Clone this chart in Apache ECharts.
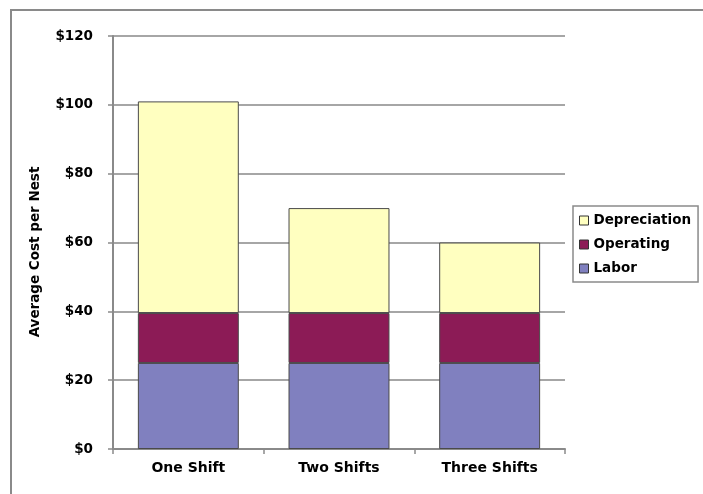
<!DOCTYPE html>
<html>
<head>
<meta charset="utf-8">
<script src="https://cdn.jsdelivr.net/npm/echarts@6/dist/echarts.min.js"></script>
<style>
  html, body { margin: 0; padding: 0; background: #fff; }
  #chart { width: 703px; height: 494px; }
</style>
</head>
<body>
<div id="chart"></div>
<script>
// Average cost per nest by shift pattern, split into cost components
const categories = ['One Shift', 'Two Shifts', 'Three Shifts'];
const labor = [25, 25, 25];
const operating = [14.5, 14.5, 14.5];
const depreciation = [61.5, 30.5, 20.5];
const yTicks = [0, 20, 40, 60, 80, 100, 120];

const FONT = 'DejaVu Sans';
const textBase = { fontFamily: FONT, fontWeight: 'bold', fontSize: 13.5, color: '#000' };

const chart = echarts.init(document.getElementById('chart'), null, { renderer: 'canvas' });

const barBorder = { borderColor: '#4a4a4a', borderWidth: 1 };

chart.setOption({
  animation: false,
  backgroundColor: '#fff',
  grid: { left: 113, right: 138, top: 36, bottom: 45, containLabel: false },
  graphic: [
    {
      type: 'polyline',
      shape: { points: [[11, 494], [11, 10], [703, 10]] },
      style: { fill: 'none', stroke: '#8a8a8a', lineWidth: 2 },
      silent: true,
      z: -10
    },
    {
      type: 'text',
      x: 35,
      y: 252,
      rotation: Math.PI / 2,
      style: Object.assign({}, textBase, {
        text: 'Average Cost per Nest',
        fill: '#000',
        fontSize: 13.5,
        align: 'center',
        verticalAlign: 'middle'
      })
    }
  ],
  legend: {
    data: ['Depreciation', 'Operating', 'Labor'],
    orient: 'vertical',
    left: 573,
    top: 206,
    padding: [7, 7, 6, 6],
    itemGap: 9,
    itemWidth: 9,
    itemHeight: 9,
    itemTextGap: 5,
    borderColor: '#8a8a8a',
    borderWidth: 1.5,
    borderRadius: 0,
    icon: 'rect',
    itemStyle: { borderColor: '#333', borderWidth: 1 },
    textStyle: Object.assign({}, textBase, { lineHeight: 15 })
  },
  xAxis: {
    type: 'category',
    data: categories,
    axisLine: { show: true, lineStyle: { color: '#8a8a8a', width: 2 } },
    axisTick: { show: true, length: 5, inside: false, lineStyle: { color: '#8a8a8a', width: 1.5 } },
    axisLabel: Object.assign({}, textBase, { fontSize: 14, margin: 12 }),
    splitLine: { show: false }
  },
  yAxis: {
    type: 'value',
    min: yTicks[0],
    max: yTicks[yTicks.length - 1],
    interval: 20,
    axisLine: { show: true, lineStyle: { color: '#8a8a8a', width: 2 } },
    axisTick: { show: true, length: 5, lineStyle: { color: '#8a8a8a', width: 1.5 } },
    axisLabel: Object.assign({}, textBase, {
      margin: 20,
      formatter: v => '$' + v
    }),
    splitLine: { show: true, lineStyle: { color: '#a6a6a6', width: 2 } }
  },
  series: [
    {
      name: 'Labor',
      type: 'bar',
      stack: 'cost',
      data: labor,
      barCategoryGap: '33%',
      itemStyle: Object.assign({ color: '#8080bf' }, barBorder)
    },
    {
      name: 'Operating',
      type: 'bar',
      stack: 'cost',
      data: operating,
      itemStyle: Object.assign({ color: '#8c1b56' }, barBorder)
    },
    {
      name: 'Depreciation',
      type: 'bar',
      stack: 'cost',
      data: depreciation,
      itemStyle: Object.assign({ color: '#ffffc0' }, barBorder)
    }
  ]
});
</script>
</body>
</html>
